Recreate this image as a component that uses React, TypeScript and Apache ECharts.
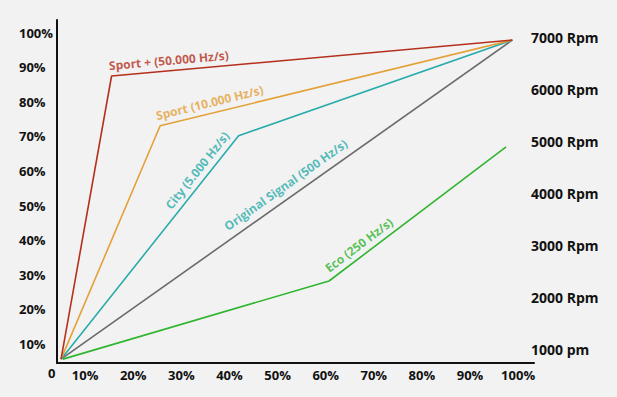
import React, { useEffect, useRef } from "react";
import * as echarts from "echarts";

// Tick labels
const xTicks = [10, 20, 30, 40, 50, 60, 70, 80, 90, 100];
const leftTicks = [10, 20, 30, 40, 50, 60, 70, 80, 90, 100];
const rightTicks = [1000, 2000, 3000, 4000, 5000, 6000, 7000];

// Series (x = %, y = % on left axis)
const seriesNames = [
  "Sport + (50.000 Hz/s)",
  "Sport (10.000 Hz/s)",
  "City (5.000 Hz/s)",
  "Original Signal (500 Hz/s)",
  "Eco (250 Hz/s)",
];
const sportPlus = [[5.0, 5.6], [15.5, 87.5], [98.8, 97.9]];
const sport = [[5.0, 5.6], [25.6, 73.1], [98.8, 97.9]];
const city = [[5.0, 5.6], [41.9, 70.2], [98.8, 97.9]];
const original = [[5.0, 5.6], [98.8, 97.9]];
const eco = [[5.4, 5.6], [60.7, 28.2], [97.5, 67.0]];

// Label anchor points along the curves
const labelPoints = [[27.4, 92.0], [35.9, 79.8], [33.3, 60.2], [51.7, 56.0], [66.9, 38.6]];
const labelAngles = [5, 13.8, 51.6, 35.3, 37];

const lineColors = ["#b5301c", "#e3a137", "#2aacab", "#6b6b6b", "#2fb52f"];
const labelColors = ["#b5301c", "#e3a137", "#2aacab", "#2aacab", "#2fb52f"];

const FONT = "'Open Sans', 'Noto Sans', sans-serif";

export default function App() {
  const ref = useRef<HTMLDivElement>(null);
  useEffect(() => {
    if (!ref.current) return;
    const chart = echarts.init(ref.current, undefined, { renderer: "svg" });
    const lineData = [sportPlus, sport, city, original, eco];
    const axisLabelBase = {
      fontFamily: FONT,
      fontWeight: "bold" as const,
      fontSize: 13,
      color: "#111",
    };
    chart.setOption({
      animation: false,
      backgroundColor: "#f2f2f2",
      grid: { left: 57, right: 83, top: 20, bottom: 34 },
      xAxis: {
        type: "value",
        min: 4.16,
        max: 103.3,
        axisLine: { show: true, lineStyle: { color: "#111", width: 2 } },
        axisTick: { show: false },
        splitLine: { show: false },
        axisLabel: {
          ...axisLabelBase,
          customValues: xTicks,
          margin: 5,
          formatter: (v: number) => `${v}%`,
        },
      },
      yAxis: [
        {
          type: "value",
          position: "left",
          min: 4.48,
          max: 103.7,
          axisLine: { show: true, lineStyle: { color: "#111", width: 2 } },
          axisTick: { show: false },
          splitLine: { show: false },
          axisLabel: {
            ...axisLabelBase,
            customValues: leftTicks,
            align: "left",
            margin: 38,
            formatter: (v: number) => `${v}%`,
          },
        },
        {
          type: "value",
          position: "right",
          min: 750,
          max: 7334,
          offset: -3,
          axisLine: { show: false },
          axisTick: { show: false },
          splitLine: { show: false },
          axisLabel: {
            ...axisLabelBase,
            fontSize: 14,
            customValues: rightTicks,
            align: "left",
            margin: 0,
            formatter: (v: number) => (v === 1000 ? "1000 pm" : `${v} Rpm`),
          },
        },
      ],
      graphic: [
        {
          type: "text",
          left: 48,
          top: 366,
          style: {
            text: "0",
            font: `bold 13px ${FONT}`,
            fill: "#111",
          },
        },
      ],
      series: [
        ...lineData.map((d, i) => ({
          type: "line",
          name: seriesNames[i],
          data: d,
          symbol: "none",
          lineStyle: { color: lineColors[i], width: 1.6 },
          itemStyle: { color: lineColors[i] },
          z: 2 + (4 - i),
        })),
        {
          type: "scatter",
          symbolSize: 0,
          silent: true,
          data: labelPoints.map((p, i) => ({
            value: p,
            name: seriesNames[i],
            label: {
              show: true,
              position: "inside",
              formatter: seriesNames[i],
              rotate: labelAngles[i],
              color: labelColors[i],
              fontFamily: FONT,
              fontWeight: "bold",
              fontSize: 12,
            },
          })),
          z: 10,
        },
      ],
    });
    return () => chart.dispose();
  }, []);
  return (
    <div
      ref={ref}
      style={{ position: "fixed", left: 0, top: 0, width: 617, height: 397 }}
    />
  );
}
